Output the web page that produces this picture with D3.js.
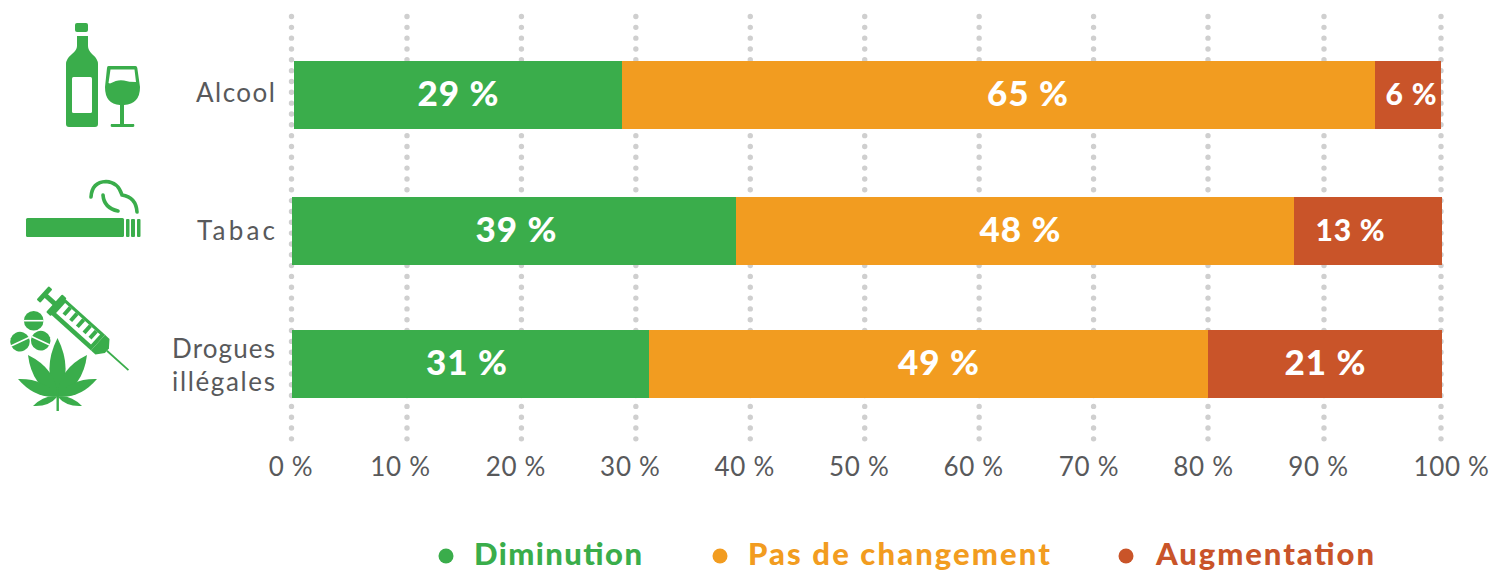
<!DOCTYPE html>
<html lang="fr"><head><meta charset="utf-8">
<script src="https://cdn.jsdelivr.net/npm/d3@7/dist/d3.min.js"></script>
<style>html,body{margin:0;background:#fff;overflow:hidden}svg{display:block}text{font-family:Lato,"Open Sans",sans-serif}</style>
</head><body><svg id="c" width="1492" height="571"></svg>
<script>
const categories = ["Alcool","Tabac","Drogues illégales"];
const seriesNames = ["Diminution","Pas de changement","Augmentation"];
const diminution = [28.6,38.6,31.05];
const pasDeChangement = [65.65,48.5,48.6];
const augmentation = [5.75,12.9,20.35];
const labelsDiminution = ["29 %","39 %","31 %"];
const labelsPasDeChangement = ["65 %","48 %","49 %"];
const labelsAugmentation = ["6 %","13 %","21 %"];
const tickValues = [0,10,20,30,40,50,60,70,80,90,100];

const colors = ["#3aad4b","#f29c20","#c95429"];
const grey = "#58595b";
const svg = d3.select("#c");

// scales
const x = d3.scaleLinear().domain([0,100]).range([292,1442]);
const gridX = d3.scaleLinear().domain([0,10,80,90,100]).range([291.5,407,1208,1324,1441]);
const rowTop = {"Alcool":61,"Tabac":197,"Drogues illégales":330};
const rowX = {"Alcool":x.copy().range([294,1441]),"Tabac":x,"Drogues illégales":x};
const barH = 68;

// grid
svg.append("g").selectAll("line").data(tickValues).join("line")
  .attr("x1",d=>gridX(d)).attr("x2",d=>gridX(d)).attr("y1",16.5).attr("y2",442)
  .attr("stroke","#cfcfcf").attr("stroke-width",5.4).attr("stroke-linecap","round").attr("stroke-dasharray","0 10.83");

// bars
const rows = categories.map((c,i)=>({category:c,"0":diminution[i],"1":pasDeChangement[i],"2":augmentation[i]}));
const stack = d3.stack().keys(["0","1","2"])(rows);
const labelSets = [labelsDiminution,labelsPasDeChangement,labelsAugmentation];
const labelShift = [[0,2,-4],[29,5,10],[3,-18,0]];
const labelSize = [[35,35,35],[35,35,35],[30,30,35]];
const labelLen = [[81,81,81],[81,81,81],[51,69,81]];
stack.forEach((s,si)=>{
  const g = svg.append("g");
  s.forEach((d,ri)=>{
    const cat = categories[ri];
    const sc = rowX[cat];
    const x0=Math.round(sc(d[0])), x1=Math.round(sc(d[1]));
    g.append("rect").attr("x",x0).attr("y",rowTop[cat]).attr("width",x1-x0).attr("height",barH).attr("fill",colors[si]);
    g.append("text").attr("x",(x0+x1)/2+labelShift[si][ri]).attr("y",rowTop[cat]+(si==2&&ri<2?44:45))
      .attr("text-anchor","middle").attr("fill","#fff").attr("font-weight",900)
      .attr("font-size",labelSize[si][ri]).attr("textLength",labelLen[si][ri]).text(labelSets[si][ri]);
  });
});

// x axis
const tickShift = [-1,-7,-6,-6,-6,-6,-6,-5,-5,-6,10];
const axis = d3.axisBottom(gridX).tickValues(tickValues).tickSize(0).tickFormat(d=>d+" %");
const ax = svg.append("g").attr("transform","translate(0,452)").call(axis);
ax.select(".domain").remove();
ax.selectAll("text").attr("font-size",26).attr("fill",grey).attr("y",0).attr("dy","24px")
  .attr("letter-spacing",0.7).attr("dx",(d,i)=>tickShift[i]).style("font-family","Lato");

// category labels
const catLines = [["Alcool"],["Tabac"],["Drogues","illégales"]];
const catBase = [[102],[240],[358,391]];
const catLen = [[79],[78],[103,103]];
catLines.forEach((ls,i)=>ls.forEach((t,j)=>{
  svg.append("text").attr("x",275).attr("y",catBase[i][j]).attr("text-anchor","end")
    .attr("font-size",26).attr("textLength",catLen[i][j]).attr("fill",grey).text(t);
}));

// legend
const legendDot = [446,720,1126];
const legendText = [474,748,1156];
const legendLen = [168,302,218];
seriesNames.forEach((n,i)=>{
  svg.append("circle").attr("cx",legendDot[i]).attr("cy",556).attr("r",7.5).attr("fill",colors[i]);
  svg.append("text").attr("x",legendText[i]).attr("y",564.5).attr("fill",colors[i])
    .attr("font-size",31).attr("font-weight",900).attr("textLength",legendLen[i]).text(n);
});

// icons
const G = colors[0];
const ic = svg.append("g").attr("fill",G);
// bottle
ic.append("rect").attr("x",75).attr("y",23).attr("width",13).attr("height",9).attr("rx",2);
ic.append("path").attr("d","M77 36H88V46Q88 50 92 54Q98 59 98 64V124Q98 127 95 127H69Q66 127 66 124V64Q66 59 72 54Q77 50 77 46Z");
ic.append("rect").attr("x",72).attr("y",77).attr("width",20).attr("height",36).attr("rx",1.5).attr("fill","#fff");
// glass
ic.append("path").attr("d","M108.500 66H135.500Q137 66 137.300 68L140 87Q140 104 124 105V124H134Q135 127 133 127H112Q110 127 111 124H120V105Q105 104 105 87L107 68Q107 66 108.500 66Z");
ic.append("path").attr("fill","#fff").attr("d","M110.500 69.500H134.500L136 82Q129 82 124 80.500Q118 79 110 83.500L108.500 83Z");
// cigarette
ic.append("rect").attr("x",26).attr("y",218).attr("width",98).attr("height",19).attr("rx",1.5);
[[126,3.500],[131,4],[137,3.500]].forEach(([px,w])=>ic.append("rect").attr("x",px).attr("y",219).attr("width",w).attr("height",18).attr("rx",1));
const smoke = svg.append("g").attr("fill","none").attr("stroke",G).attr("stroke-width",3.6).attr("stroke-linecap","round");
smoke.append("path").attr("d","M91 197Q92 182 106 181.500Q118 182 122 195Q136 197 137 212");
smoke.append("path").attr("d","M103 195Q104 208 118 211");
// syringe
const sy = svg.append("g").attr("transform","translate(44.500,294.500) rotate(42)").attr("fill",G);
sy.append("rect").attr("x",-2.500).attr("y",-9).attr("width",5).attr("height",18).attr("rx",1);
sy.append("rect").attr("x",0).attr("y",-2.500).attr("width",16).attr("height",5);
sy.append("rect").attr("x",13).attr("y",-12).attr("width",6).attr("height",24).attr("rx",1);
sy.append("rect").attr("x",17).attr("y",-10.500).attr("width",55).attr("height",21);
sy.append("path").attr("d","M72 -10.500H78L84 -3V3L78 10.500H72Z");
sy.append("rect").attr("x",84).attr("y",-0.900).attr("width",29).attr("height",1.800);
sy.append("rect").attr("x",21).attr("y",-7.500).attr("width",47).attr("height",13.500).attr("fill","#fff");
[26,35,44,53,61].forEach(u=>sy.append("rect").attr("x",u).attr("y",-7.500).attr("width",4).attr("height",9.500));
// pills
[[33.700,320.700,0],[20,341.700,-25],[40.700,340.700,25]].forEach(([cx,cy,a])=>{
  const p = svg.append("g").attr("transform",`translate(${cx},${cy}) rotate(${a})`);
  p.append("circle").attr("r",9.800).attr("fill",G);
  p.append("rect").attr("x",-10).attr("y",-0.800).attr("width",20).attr("height",1.600).attr("fill","#fff");
});
// leaf: pointed leaflets, narrow at the base
const leafBase = [57.500,396.500];
const leaflets = [[57.500,338,8.500],[28,355,8],[87,355,8],[18,379,6],[97,379,6],[33,406,3.500],[82,406,3.500]];
leaflets.forEach(([tx,ty,w])=>{
  const [bx,by]=leafBase, dx=tx-bx, dy=ty-by, L=Math.hypot(dx,dy), nx=-dy/L, ny=dx/L;
  const mx=bx+dx*0.45, my=by+dy*0.45;
  svg.append("path").attr("fill",G).attr("d",`M${bx} ${by}Q${mx+nx*w*1.9} ${my+ny*w*1.9} ${tx} ${ty}Q${mx-nx*w*1.9} ${my-ny*w*1.9} ${bx} ${by}Z`);
});
svg.append("rect").attr("x",56.500).attr("y",390).attr("width",2.400).attr("height",21).attr("fill",G);
</script></body></html>
